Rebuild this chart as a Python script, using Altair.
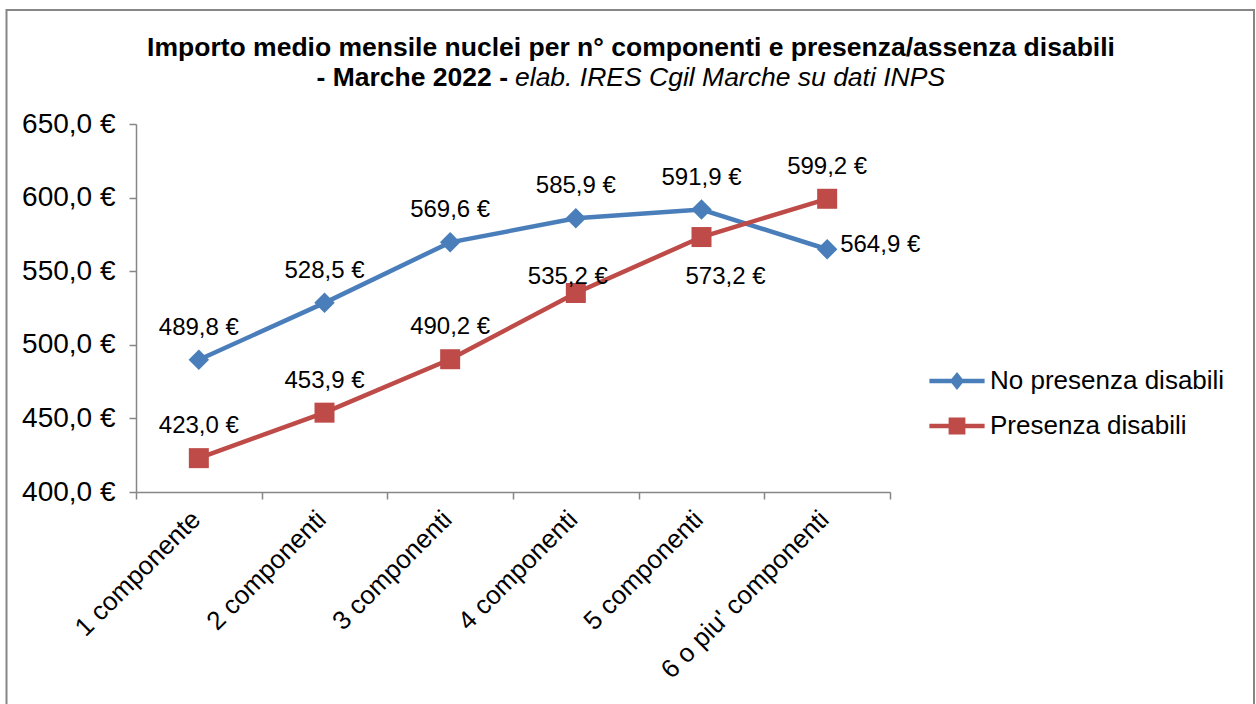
import altair as alt
import pandas as pd

# ---------------- data ----------------
categories = ["1 componente", "2 componenti", "3 componenti",
              "4 componenti", "5 componenti", "6 o piu' componenti"]
series_names = ["No presenza disabili", "Presenza disabili"]
no_disabili = [489.8, 528.5, 569.6, 585.9, 591.9, 564.9]
presenza_disabili = [423.0, 453.9, 490.2, 535.2, 573.2, 599.2]
label_place_no = ["above", "above", "above", "above", "above", "right"]
label_place_si = ["above", "above", "above", "near", "below", "above"]
y_ticks = [400, 450, 500, 550, 600, 650]
title_line1 = "Importo medio mensile nuclei per n° componenti e presenza/assenza disabili"
title_line2_bold = "- Marche 2022 -"
title_line2_italic = "elab. IRES Cgil Marche su dati INPS"

FONT = "Liberation Sans"
BLUE = "#4A7EBB"
RED = "#BE4B48"
GRAY = "#868686"
W, H = 754, 368
LEFT, TOP = 136, 124

rows = []
for c, v, p in zip(categories, no_disabili, label_place_no):
    rows.append({"cat": c, "series": series_names[0], "value": v, "place": p})
for c, v, p in zip(categories, presenza_disabili, label_place_si):
    rows.append({"cat": c, "series": series_names[1], "value": v, "place": p})
df = pd.DataFrame(rows)
df["label"] = df["value"].map(lambda v: f"{v:.1f}".replace(".", ",") + " €")

one = pd.DataFrame({"k": [0]})

x_enc = alt.X(
    "cat:N",
    sort=categories,
    scale=alt.Scale(type="band", domain=categories, paddingInner=0, paddingOuter=0),
    axis=alt.Axis(
        title=None, labelAngle=315, labelAlign="right", labelBaseline="middle",
        labelFont=FONT, labelFontSize=26, labelColor="black", labelPadding=16,
        labelOffset=-3,
        tickBand="extent", ticks=True, tickSize=7, tickColor=GRAY, tickWidth=1.5,
        domainColor=GRAY, domainWidth=1.5, grid=False, labelLimit=400,
    ),
)
y_enc = alt.Y(
    "value:Q",
    scale=alt.Scale(domain=[400, 650], nice=False, zero=False),
    axis=alt.Axis(
        title=None, values=y_ticks,
        labelExpr="replace(format(datum.value, '.1f'), '.', ',') + ' €'",
        labelFont=FONT, labelFontSize=28, labelColor="black", labelPadding=14,
        tickSize=7, tickColor=GRAY, tickWidth=1.5,
        domainColor=GRAY, domainWidth=1.5, grid=False,
    ),
)
color_scale = alt.Scale(domain=series_names, range=[BLUE, RED])

base = alt.Chart(df)

lines = base.mark_line(strokeWidth=4.5).encode(
    x=x_enc, y=y_enc,
    color=alt.Color("series:N", scale=color_scale, legend=None),
    detail="series:N",
)

pts_no = base.transform_filter(alt.datum.series == series_names[0]).mark_point(
    shape="diamond", filled=True, size=420, opacity=1
).encode(x=x_enc, y=y_enc, color=alt.Color("series:N", scale=color_scale, legend=None))

pts_si = base.transform_filter(alt.datum.series == series_names[1]).mark_point(
    shape="square", filled=True, size=400, opacity=1
).encode(x=x_enc, y=y_enc, color=alt.Color("series:N", scale=color_scale, legend=None))

# legend symbols: line with marker (custom paths)
diamond_path = ("M-2.3,-0.18 L-0.45,-0.18 L0,-0.75 L0.45,-0.18 L2.3,-0.18 L2.3,0.18 "
                "L0.45,0.18 L0,0.75 L-0.45,0.18 L-2.3,0.18 Z")
square_path = ("M-2.3,-0.18 L-0.7,-0.18 L-0.7,-0.7 L0.7,-0.7 L0.7,-0.18 L2.3,-0.18 "
               "L2.3,0.18 L0.7,0.18 L0.7,0.7 L-0.7,0.7 L-0.7,0.18 L-2.3,0.18 Z")
legend = alt.Legend(
    title=None, orient="none", legendX=808, legendY=244,
    labelFont=FONT, labelFontSize=26, labelColor="black", labelLimit=400,
    labelOffset=20, symbolSize=576, symbolStrokeWidth=0, symbolOpacity=1,
    rowPadding=19, padding=0,
)
legend_layer = base.mark_point(filled=True, size=576, opacity=0).encode(
    x=x_enc, y=y_enc,
    color=alt.Color("series:N", scale=color_scale, legend=legend),
    shape=alt.Shape("series:N", scale=alt.Scale(domain=series_names,
                                                range=[diamond_path, square_path]),
                    legend=legend),
)

lab_kw = dict(font=FONT, fontSize=24, color="black", baseline="middle")
lab_above = base.transform_filter(alt.datum.place == "above").mark_text(
    align="center", dy=-32, **lab_kw).encode(x=x_enc, y=y_enc, text="label:N")
lab_right = base.transform_filter(alt.datum.place == "right").mark_text(
    align="left", dx=13, dy=-4, **lab_kw).encode(x=x_enc, y=y_enc, text="label:N")
lab_near = base.transform_filter(alt.datum.place == "near").mark_text(
    align="center", dx=-8, dy=-16, **lab_kw).encode(x=x_enc, y=y_enc, text="label:N")
lab_below = base.transform_filter(alt.datum.place == "below").mark_text(
    align="center", dx=24, dy=40, **lab_kw).encode(x=x_enc, y=y_enc, text="label:N")

tb = alt.Chart(one)
t1 = tb.mark_text(font=FONT, fontSize=26.5, fontWeight="bold", align="center",
                  baseline="alphabetic", color="black").encode(
    x=alt.value(631 - LEFT), y=alt.value(56 - TOP), text=alt.value(title_line1))
t2a = tb.mark_text(font=FONT, fontSize=26.5, fontWeight="bold", align="right",
                   baseline="alphabetic", color="black").encode(
    x=alt.value(508 - LEFT), y=alt.value(86 - TOP), text=alt.value(title_line2_bold))
t2b = tb.mark_text(font=FONT, fontSize=26.5, fontStyle="italic", align="left",
                   baseline="alphabetic", color="black").encode(
    x=alt.value(515 - LEFT), y=alt.value(86 - TOP), text=alt.value(title_line2_italic))

border = tb.mark_rect(fill="transparent", stroke=GRAY, strokeWidth=2).encode(
    x=alt.value(6.5 - LEFT), x2=alt.value(1254 - LEFT),
    y=alt.value(10 - TOP), y2=alt.value(720 - TOP))

chart = alt.layer(
    border, legend_layer, lines, pts_no, pts_si,
    lab_above, lab_right, lab_near, lab_below, t1, t2a, t2b,
).properties(
    width=W, height=H,
    autosize=alt.AutoSizeParams(type="none"),
    padding={"left": LEFT, "top": TOP, "right": 1256 - LEFT - W, "bottom": 704 - TOP - H},
    background="white",
).configure_view(stroke="transparent")

chart.save("out.html", embed_options={"renderer": "svg", "actions": False})
